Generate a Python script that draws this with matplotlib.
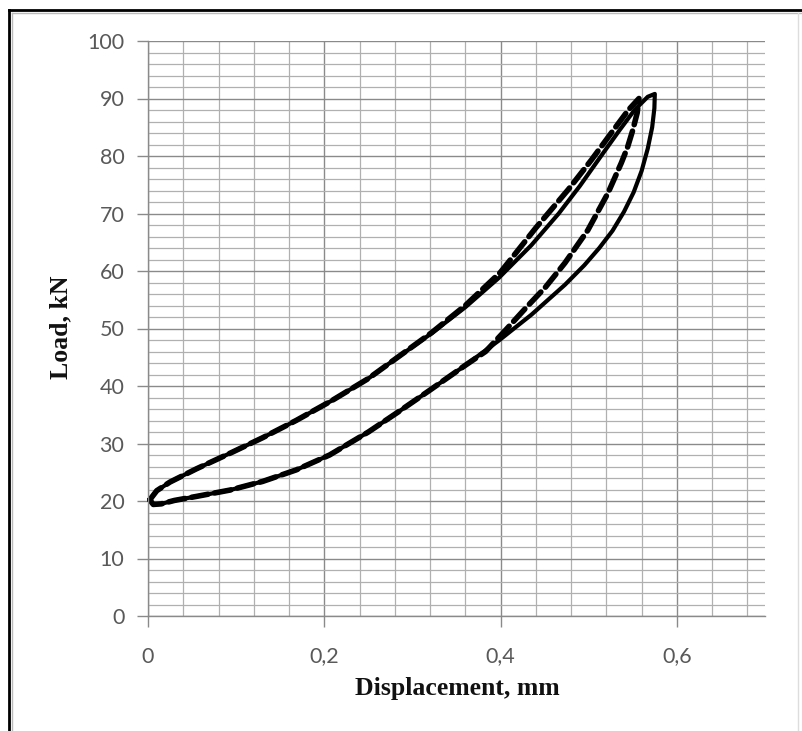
import matplotlib
matplotlib.use("Agg")
import matplotlib.pyplot as plt
from matplotlib.lines import Line2D
from matplotlib.ticker import MultipleLocator, FuncFormatter

# ---- data ----
# solid loop: upper branch then lower branch back to the start
solid_up_x = [0.002, 0.010, 0.025, 0.055, 0.093, 0.130, 0.168, 0.209, 0.250, 0.277,
              0.322, 0.360, 0.398, 0.435, 0.466, 0.490, 0.514, 0.535, 0.552, 0.567, 0.575]
solid_up_y = [20.2, 21.8, 23.3, 25.6, 28.3, 31.0, 34.0, 37.5, 41.3, 44.3,
              49.2, 53.7, 58.8, 64.5, 70.0, 74.8, 80.0, 84.5, 88.0, 90.3, 90.8]
solid_dn_x = [0.575, 0.5745, 0.572, 0.567, 0.560, 0.551, 0.540, 0.527, 0.512, 0.495,
              0.473, 0.435, 0.398, 0.360, 0.320, 0.285, 0.250, 0.206, 0.168, 0.130,
              0.093, 0.055, 0.030, 0.015, 0.006, 0.002]
solid_dn_y = [90.8, 88.3, 85.0, 81.3, 77.4, 73.7, 70.3, 67.0, 64.0, 61.0,
              57.6, 52.4, 47.9, 43.6, 39.3, 35.6, 32.0, 28.0, 25.4, 23.4,
              21.9, 20.8, 20.1, 19.5, 19.4, 20.2]

# dashed loop (second cycle)
dash_up_x = [0.002, 0.010, 0.025, 0.055, 0.093, 0.130, 0.168, 0.209, 0.250, 0.277,
             0.322, 0.360, 0.400, 0.440, 0.477, 0.503, 0.528, 0.545, 0.557]
dash_up_y = [20.2, 21.8, 23.3, 25.6, 28.3, 31.0, 34.0, 37.5, 41.3, 44.3,
             49.3, 54.0, 59.8, 67.5, 74.2, 79.3, 84.5, 88.0, 90.0]
dash_dn_x = [0.557, 0.555, 0.550, 0.544, 0.537, 0.522, 0.499, 0.473, 0.451, 0.430,
             0.405, 0.383, 0.360, 0.320, 0.285, 0.250, 0.206, 0.168, 0.130,
             0.093, 0.055, 0.030, 0.015, 0.006, 0.002]
dash_dn_y = [90.0, 87.5, 84.5, 81.5, 78.8, 73.6, 67.1, 61.4, 57.2, 53.8,
             49.6, 46.0, 43.6, 39.3, 35.6, 32.0, 28.0, 25.4, 23.4,
             21.9, 20.8, 20.1, 19.5, 19.4, 20.2]

x_ticks = [0, 0.2, 0.4, 0.6]
y_ticks = [0, 10, 20, 30, 40, 50, 60, 70, 80, 90, 100]
x_label = "Displacement, mm"
y_label = "Load, kN"

# ---- figure ----
fig = plt.figure(figsize=(8.03, 7.31), dpi=100)
ax = fig.add_axes([148/803, 1-616/731, (765-148)/803, (616-41)/731])

ax.set_xlim(0, 0.7)
ax.set_ylim(0, 100)

ax.xaxis.set_minor_locator(MultipleLocator(0.04))
ax.yaxis.set_minor_locator(MultipleLocator(2))
ax.set_xticks(x_ticks)
ax.set_yticks(y_ticks)
ax.xaxis.set_major_formatter(FuncFormatter(lambda v, p: ("%g" % round(v, 2)).replace(".", ",")))

ax.grid(which="major", color="#8a8a8a", linewidth=1.0)
ax.grid(which="minor", color="#b0b0b0", linewidth=0.9)
ax.set_axisbelow(True)

for s in ("top", "right"):
    ax.spines[s].set_visible(False)
for s in ("left", "bottom"):
    ax.spines[s].set_color("#8a8a8a")
    ax.spines[s].set_linewidth(1.0)

ax.tick_params(which="major", length=8, width=1, color="#8a8a8a",
               labelcolor="#595959")
ax.tick_params(which="minor", length=0)
ax.tick_params(axis="y", pad=9)
ax.tick_params(axis="x", pad=14)
for lab in ax.get_xticklabels() + ax.get_yticklabels():
    lab.set_fontfamily(["Lato", "DejaVu Sans"])
    lab.set_fontsize(15.5)

ax.plot(solid_up_x + solid_dn_x[1:], solid_up_y + solid_dn_y[1:],
        color="black", linewidth=3.0, solid_joinstyle="round", solid_capstyle="round",
        clip_on=False)
ax.plot(dash_up_x + dash_dn_x[1:], dash_up_y + dash_dn_y[1:],
        color="black", linewidth=4.0, dashes=(3, 1.2), dash_capstyle="round",
        clip_on=False)

fig.text(457/803, 1-688/731, x_label, ha="center", va="center",
         family=["Liberation Serif"], weight="bold", size=18.5, color="#111111")
fig.text(61/803, 1-327/731, y_label, ha="center", va="center", rotation=90,
         family=["Liberation Serif"], weight="bold", size=18.5, color="#111111")

# outer frame
fig.add_artist(Line2D([9/803, 9/803], [0, 1-10/731], color="black", linewidth=2,
                      transform=fig.transFigure))
fig.add_artist(Line2D([12/803, 12/803], [0, 1-13/731], color="#bbbbbb", linewidth=1,
                      transform=fig.transFigure))
fig.add_artist(Line2D([9/803, 1], [1-10/731, 1-10/731], color="black", linewidth=2,
                      transform=fig.transFigure))
fig.add_artist(Line2D([12/803, 1], [1-13/731, 1-13/731], color="#bbbbbb", linewidth=1,
                      transform=fig.transFigure))
fig.add_artist(Line2D([798/803, 798/803], [0, 1-13/731], color="#dddddd", linewidth=1,
                      transform=fig.transFigure))

fig.savefig("out.png", dpi=100)
